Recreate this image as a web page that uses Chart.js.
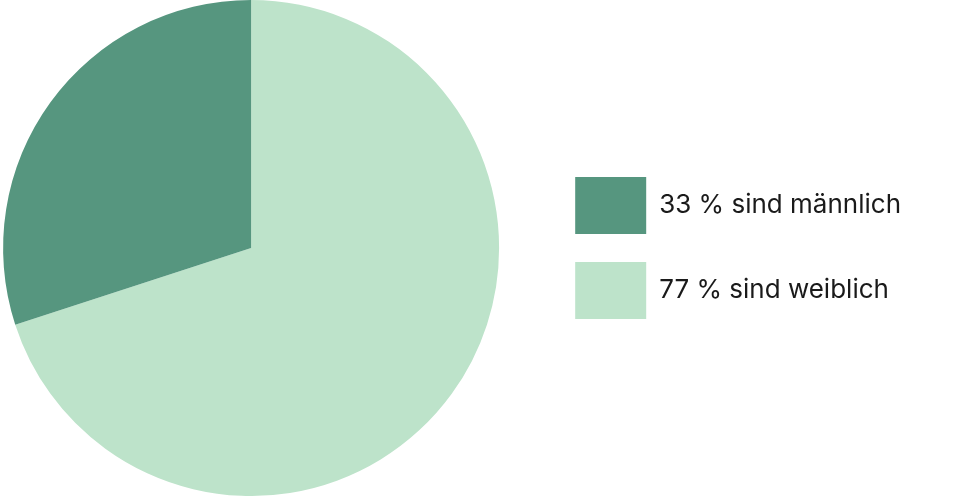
<!DOCTYPE html>
<html>
<head>
<meta charset="utf-8">
<script src="https://cdn.jsdelivr.net/npm/chart.js@4"></script>
<style>
html,body{margin:0;padding:0;background:#fff;overflow:hidden;}
#outer{width:958px;height:496px;position:relative;overflow:hidden;}
#wrap{width:1003px;height:496px;position:absolute;left:-45px;top:0;}
</style>
</head>
<body>
<div id="outer"><div id="wrap"><canvas id="c"></canvas></div></div>
<script>
const categories = ['77 % sind weiblich', '33 % sind männlich'];
const values = [77, 33];
const colors = ['#bde3ca', '#56967f'];

new Chart(document.getElementById('c'), {
  type: 'pie',
  data: {
    labels: categories,
    datasets: [{ data: values, backgroundColor: colors, borderWidth: 0, hoverOffset: 0 }]
  },
  options: {
    responsive: true,
    maintainAspectRatio: false,
    animation: false,
    layout: { padding: { left: 0, right: 47, top: 0, bottom: 0 } },
    plugins: {
      tooltip: { enabled: false },
      legend: {
        position: 'right',
        reverse: true,
        labels: {
          boxWidth: 71,
          boxHeight: 57,
          padding: 28,
          color: '#1a1a1a',
          font: { family: 'Inter', size: 26 }
        }
      }
    }
  }
});
</script>
</body>
</html>
